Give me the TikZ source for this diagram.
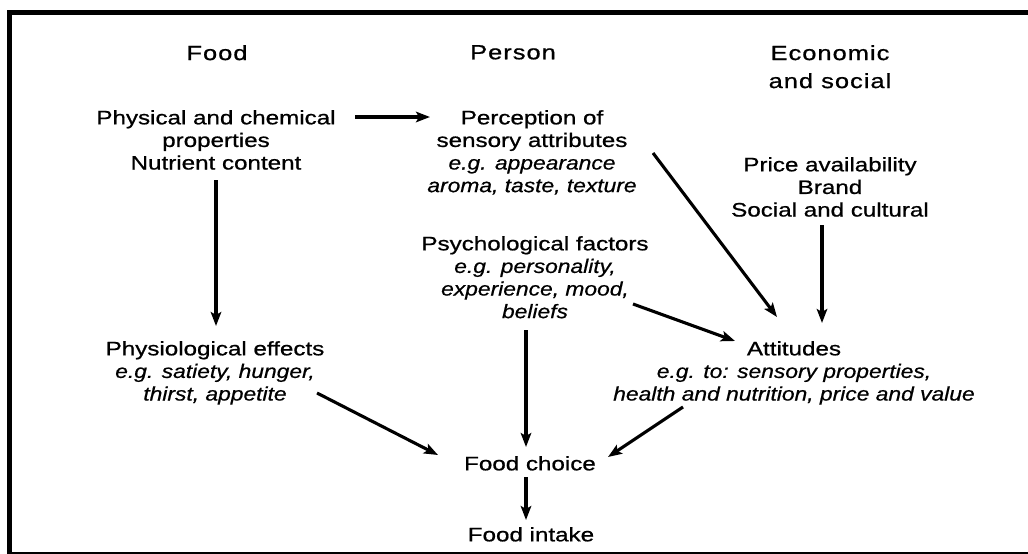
\documentclass[tikz,border=0pt]{standalone}
\usepackage{fontspec}
\setmainfont{Liberation Sans}[FakeStretch=1.24,FakeBold=0.8]
\newfontfamily\itfont{Liberation Sans}[FakeStretch=1.17,FakeBold=0.6]
\usetikzlibrary{arrows.meta}
\tikzset{
  txt/.style={inner sep=0pt, align=center, anchor=north, font=\fontsize{19.5}{22.6}\selectfont},
  hdr/.style={inner sep=0pt, align=center, anchor=north, font=\fontsize{20.5}{28}\selectfont\addfontfeature{LetterSpace=5}},
  arr/.style={line width=3.1pt, -{Stealth[length=14pt,width=10.5pt,inset=3pt]}},
}
\newcommand{\eg}[1]{{\itfont\itshape #1}}
\begin{document}
\begin{tikzpicture}[x=1pt,y=-1pt]
\useasboundingbox (0,0) rectangle (1028,554);
\fill[white] (0,0) rectangle (1028,554);
% frame
\fill[black] (7,10) rectangle (1028,15);
\fill[black] (7,10) rectangle (12,554);
\fill[black] (7,551.5) rectangle (1028,554);
% headers
\node[hdr] (hfood) at (217,45) {Food};
\node[hdr] (hperson) at (513,45) {Person};
\node[hdr] (hecon) at (830,45) {Economic\\and social};
% blocks
\node[txt] (phys) at (216,110) {Physical and chemical\\properties\\Nutrient content};
\node[txt] (perc) at (532,110) {Perception of\\sensory attributes\\\eg{e.g. appearance}\\\eg{aroma, taste, texture}};
\node[txt] (price) at (830,157) {Price availability\\Brand\\Social and cultural};
\node[txt] (psych) at (535,236) {Psychological factors\\\eg{e.g. personality,}\\\eg{experience, mood,}\\\eg{beliefs}};
\node[txt] (physio) at (215,341) {Physiological effects\\\eg{e.g. satiety, hunger,}\\\eg{thirst, appetite}};
\node[txt] (att) at (794,341) {Attitudes\\\eg{e.g. to: sensory properties,}\\\eg{health and nutrition, price and value}};
\node[txt] (choice) at (530,456) {Food choice};
\node[txt] (intake) at (531,527) {Food intake};
% connectors
\draw[arr] ([shift={(139,7)}]phys.north) -- ([shift={(-102,7)}]perc.north);
\draw[arr] ([shift={(0,70)}]phys.north) -- ([shift={(1,-15)}]physio.north);
\draw[arr] ([shift={(121,43)}]perc.north) -- ([shift={(-17,-24)}]att.north);
\draw[arr] ([shift={(-8,68)}]price.north) -- ([shift={(28,-18)}]att.north);
\draw[arr] ([shift={(98,68)}]psych.north) -- ([shift={(-59,0)}]att.north);
\draw[arr] ([shift={(-9,94)}]psych.north) -- ([shift={(-4,-9)}]choice.north);
\draw[arr] ([shift={(102,52)}]physio.north) -- ([shift={(-92,-1)}]choice.north);
\draw[arr] ([shift={(-111,66)}]att.north) -- ([shift={(78,1)}]choice.north);
\draw[arr] ([shift={(-4,21)}]choice.north) -- ([shift={(-5,-7)}]intake.north);
\end{tikzpicture}
\end{document}
